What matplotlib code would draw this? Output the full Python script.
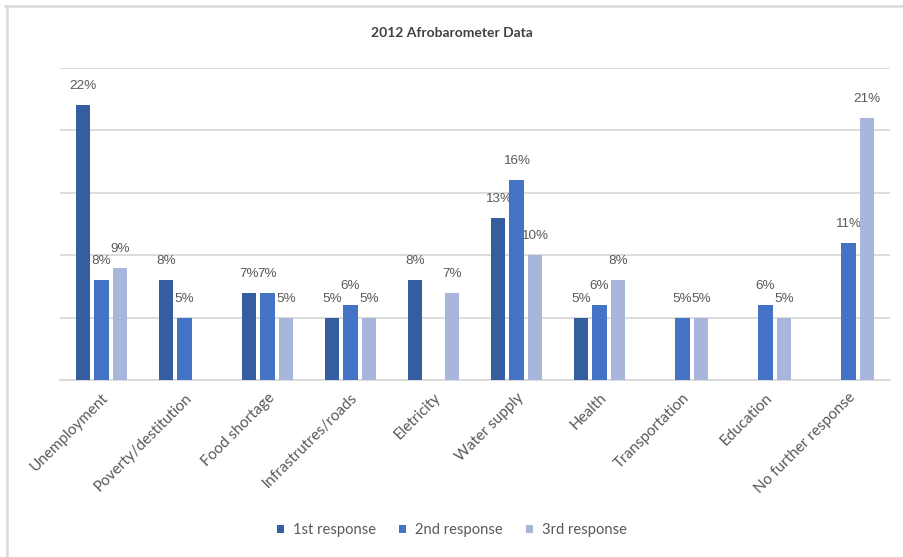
import numpy as np
import matplotlib.pyplot as plt
from matplotlib.lines import Line2D
from matplotlib.transforms import ScaledTranslation

nan = np.nan

categories = ['Unemployment', 'Poverty/destitution', 'Food shortage', 'Infrastrutres/roads',
              'Eletricity', 'Water supply', 'Health', 'Transportation', 'Education',
              'No further response']
first_resp = [22, 8, 7, 5, 8, 13, 5, nan, nan, nan]
second_resp = [8, 5, 7, 6, nan, 16, 6, 5, 6, 11]
third_resp = [9, nan, 5, 5, 7, 10, 8, 5, 5, 21]
series_names = ['1st response', '2nd response', '3rd response']
colors = ['#355EA0', '#4472C4', '#A8B6DB']

grid_col = '#D9D9D9'
text_col = '#595959'

fig = plt.figure(figsize=(9.04, 5.57), dpi=100)
ax = fig.add_axes([60 / 904, 1 - 380 / 557, 830 / 904, 312 / 557])

x = np.arange(len(categories))
width = 0.17
step = 0.222

for i, (vals, name, col) in enumerate(zip([first_resp, second_resp, third_resp], series_names, colors)):
    vals = np.array(vals, dtype=float)
    pos = x + (i - 1) * step
    ax.bar(pos, vals, width, color=col, label=name, zorder=3)
    for px, v in zip(pos, vals):
        if np.isnan(v):
            continue
        ax.annotate('{:.0f}%'.format(v), (px, v), xytext=(0, 19), textcoords='offset pixels',
                    ha='center', va='center', fontsize=9.7, color=text_col,
                    family='Liberation Sans')

ax.set_xlim(-0.5, len(categories) - 0.5)
ax.set_ylim(0, 25)
ax.set_yticks(np.arange(0, 26, 5))
ax.yaxis.grid(True, color=grid_col, linewidth=1.3, zorder=0)
ax.tick_params(axis='y', left=False, labelleft=False)
ax.tick_params(axis='x', length=0, pad=4)
for s in ['top', 'right', 'left']:
    ax.spines[s].set_visible(False)
ax.spines['bottom'].set_color(grid_col)
ax.spines['bottom'].set_linewidth(1.3)

ax.set_xticks(x)
ax.set_xticklabels(categories, rotation=45, ha='right', rotation_mode='anchor',
                   fontsize=11, color=text_col, family='Lato')
for lbl in ax.get_xticklabels():
    lbl.set_transform(lbl.get_transform() + ScaledTranslation(0.0, -0.05, fig.dpi_scale_trans))

fig.text(0.5, 1 - 33 / 557, '2012 Afrobarometer Data', ha='center', va='center',
         fontsize=10, color='#404040', family='Lato', fontweight='bold')

fig.legend(loc='center', bbox_to_anchor=(0.5, 1 - 530 / 557), ncol=3, frameon=False,
           handlelength=0.45, handleheight=0.45, handletextpad=0.6, columnspacing=1.6,
           prop={'family': 'Lato', 'size': 10.6}, labelcolor=text_col)

# thin grey frame along the top and left edges
fig.add_artist(Line2D([5 / 904, 1], [1 - 6 / 557] * 2, transform=fig.transFigure,
                      color=grid_col, linewidth=1.8))
fig.add_artist(Line2D([7 / 904] * 2, [0, 1 - 6 / 557], transform=fig.transFigure,
                      color=grid_col, linewidth=1.8))

fig.savefig('out.png', dpi=100)
